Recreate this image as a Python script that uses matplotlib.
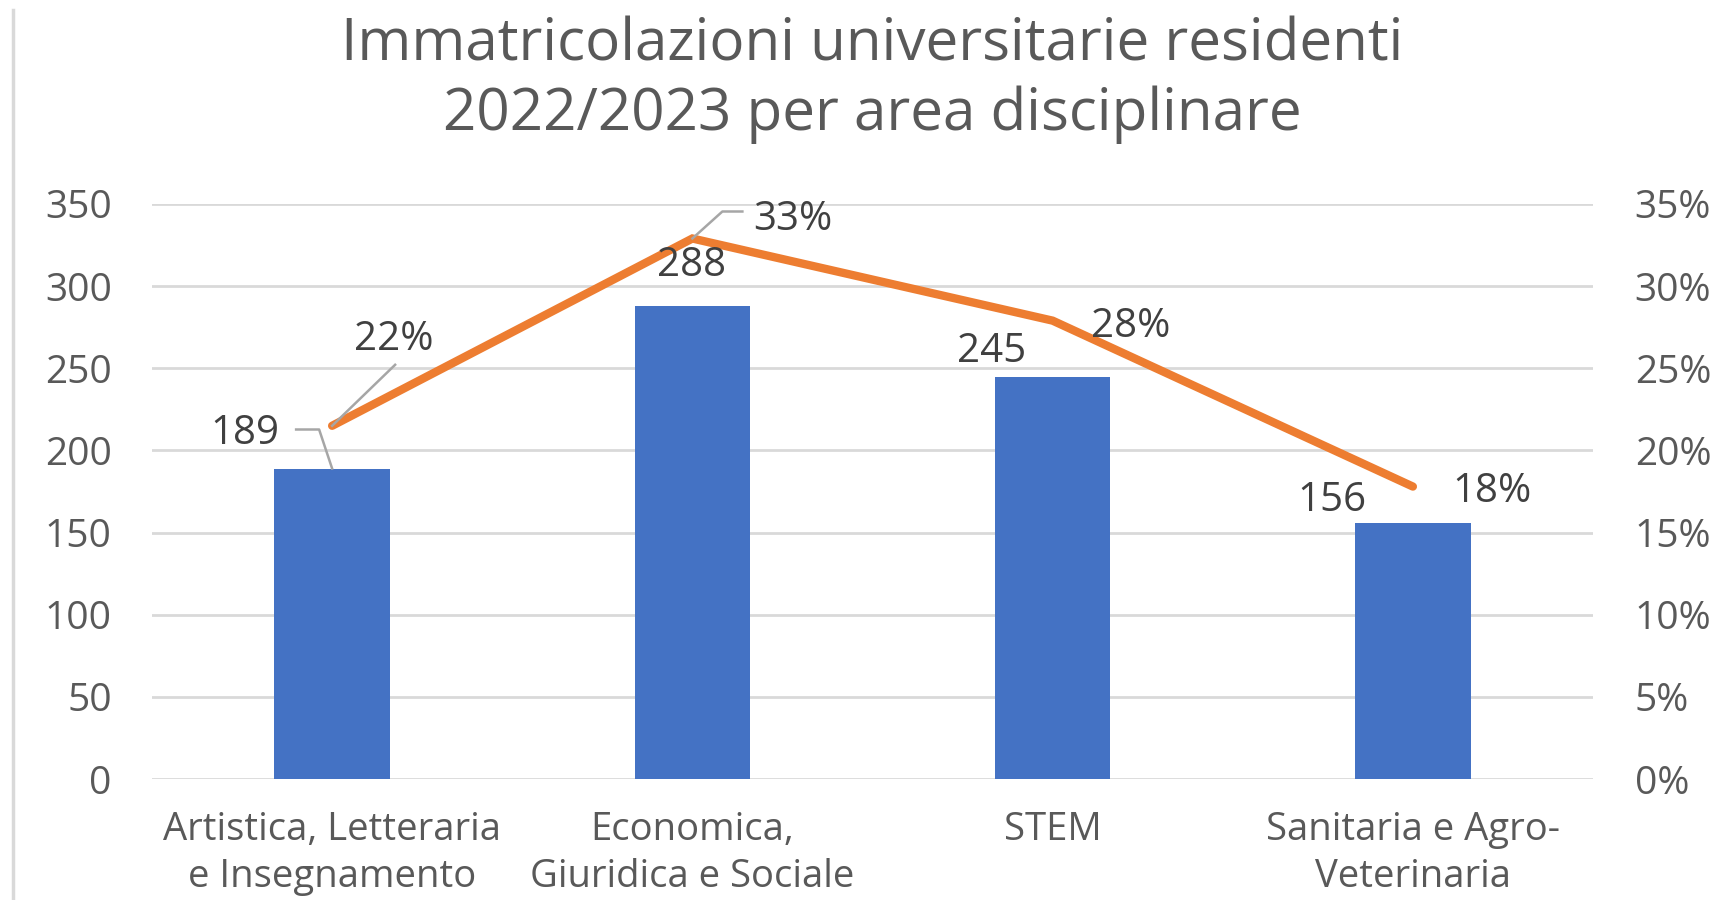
import matplotlib
matplotlib.use("Agg")
import matplotlib.pyplot as plt
from matplotlib.lines import Line2D
from matplotlib.ticker import FuncFormatter

# ---------------- data ----------------
categories = ["Artistica, Letteraria\ne Insegnamento",
              "Economica,\nGiuridica e Sociale",
              "STEM",
              "Sanitaria e Agro-\nVeterinaria"]
iscritti = [189, 288, 245, 156]
quota = [0.215, 0.329, 0.279, 0.178]
quota_labels = ["22%", "33%", "28%", "18%"]
left_ticks = [0, 50, 100, 150, 200, 250, 300, 350]
right_ticks = [0, 0.05, 0.10, 0.15, 0.20, 0.25, 0.30, 0.35]
title = "Immatricolazioni universitarie residenti\n2022/2023 per area disciplinare"

# ---------------- style ----------------
W, H, DPI = 1726, 900, 100
BAR = "#4472C4"
LINE = "#ED7D31"
GRID = "#D9D9D9"
TXT = "#595959"
LBL = "#404040"
LEAD = "#A6A6A6"
FONT = ["Open Sans", "DejaVu Sans"]
plt.rcParams['font.family'] = FONT

fig = plt.figure(figsize=(W / DPI, H / DPI), dpi=DPI)
fig.patch.set_facecolor("white")

# plot area in pixels (top-left origin)
x0, x1, ytop, ybot = 152, 1593, 204, 779
ax = fig.add_axes([x0 / W, 1 - ybot / H, (x1 - x0) / W, (ybot - ytop) / H])
ax2 = ax.twinx()

xs = list(range(len(categories)))
ax.bar(xs, iscritti, width=0.32, color=BAR, zorder=2)
ax.set_xlim(-0.5, len(categories) - 0.5)
ax.set_ylim(0, 350)
ax.set_yticks(left_ticks)
ax.yaxis.grid(True, color=GRID, linewidth=2.0, zorder=0)
ax.set_axisbelow(True)
ax.set_xticks(xs)
ax.set_xticklabels(categories, fontsize=27.5, color=TXT, linespacing=1.3)
ax.tick_params(axis='x', length=0, pad=23)
ax.tick_params(axis='y', length=0, pad=29, labelsize=28, labelcolor=TXT)

ax2.plot(xs, quota, color=LINE, linewidth=6, solid_capstyle='round',
         solid_joinstyle='miter', zorder=3)
ax2.set_ylim(0, 0.35)
ax2.set_yticks(right_ticks)
ax2.yaxis.set_major_formatter(FuncFormatter(lambda v, p: f"{round(v * 100):d}%"))
ax2.tick_params(axis='y', length=0, pad=30, labelsize=28, labelcolor=TXT)

for a in (ax, ax2):
    for s in a.spines.values():
        s.set_visible(False)

fig.suptitle(title, x=(x0 + x1) / 2 / W, y=1 - 16 / H, va='top',
             fontsize=42, color=TXT, linespacing=1.25)

# left border of chart area
fig.add_artist(Line2D([13 / W, 13 / W], [0, 1 - 10 / H], color=GRID,
                      linewidth=2.5, transform=fig.transFigure))

# ---------------- data labels with leader lines ----------------
fig.canvas.draw()


def to_pix(a, x, y):
    dx, dy = a.transData.transform((x, y))
    return dx, dy  # display coordinates (origin bottom-left)


# offsets in pixels: (dx right, dy up) for label centre; leader vertices
bar_label_off = [(-87, 39), (-1, 44), (-61, 29), (-81, 26)]
bar_leaders = [[(0, 0), (-13, 39), (-36, 39)], None, None, None]
line_label_off = [(62, 90), (100, 23), (78, -2), (79, -1)]
line_leaders = [[(0, 0), (63, 61)], [(0, 0), (30, 27), (50, 27)], None, None]
DIGIT_HALF = 14

for i in xs:
    px, py = to_pix(ax, i, iscritti[i])
    ox, oy = bar_label_off[i]
    fig.text((px + ox) / W, (py + oy - DIGIT_HALF) / H, f"{iscritti[i]}",
             ha='center', va='baseline', fontsize=29, color=LBL)
    if bar_leaders[i]:
        vx = [(px + a) / W for a, b in bar_leaders[i]]
        vy = [(py + b) / H for a, b in bar_leaders[i]]
        fig.add_artist(Line2D(vx, vy, color=LEAD, linewidth=1.8,
                              transform=fig.transFigure, zorder=4))

    qx, qy = to_pix(ax2, i, quota[i])
    ox, oy = line_label_off[i]
    fig.text((qx + ox) / W, (qy + oy - DIGIT_HALF) / H, quota_labels[i],
             ha='center', va='baseline', fontsize=29, color=LBL)
    if line_leaders[i]:
        vx = [(qx + a) / W for a, b in line_leaders[i]]
        vy = [(qy + b) / H for a, b in line_leaders[i]]
        fig.add_artist(Line2D(vx, vy, color=LEAD, linewidth=1.8,
                              transform=fig.transFigure, zorder=4))

fig.savefig("out.png", dpi=DPI, facecolor="white")
